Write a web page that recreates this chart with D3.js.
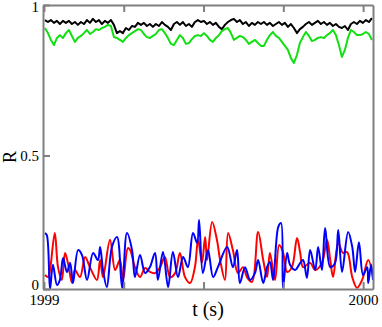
<!DOCTYPE html>
<html>
<head>
<meta charset="utf-8">
<script src="https://cdn.jsdelivr.net/npm/d3@7/dist/d3.min.js"></script>
<style>
  body { margin: 0; background: #fff; }
  svg { display: block; }
  text { font-family: "Liberation Serif", "DejaVu Serif", serif; }
</style>
</head>
<body>
<div id="chart"></div>
<script>
// tick labels
const xTicks = [1999, 1999.25, 1999.5, 1999.75, 2000]
const xTickLabels = ['1999', '', '', '', '2000']
const yTicks = [0, 0.47, 1]
const yTickLabels = ['0', '0.5', '1']

// black & green are sampled on a regular time grid (start, step)
const gridStart = 1999.003
const gridStep = 0.0094

const rBlack = [.947, .940, .947, .937, .944, .933, .944, .937, .944, .933,
  .940, .930, .940, .933, .947, .937, .951, .940, .947, .933,
  .944, .937, .947, .930, .901, .908, .901, .919, .912, .926,
  .923, .937, .930, .937, .926, .933, .923, .933, .926, .940,
  .930, .923, .912, .933, .940, .930, .940, .926, .933, .923,
  .940, .947, .940, .944, .933, .940, .930, .937, .923, .915,
  .930, .940, .947, .951, .940, .947, .933, .940, .926, .937,
  .930, .940, .933, .940, .930, .937, .926, .933, .940, .930,
  .937, .923, .933, .919, .901, .915, .923, .933, .940, .930,
  .937, .944, .933, .940, .930, .937, .926, .933, .923, .919,
  .926, .912, .933, .940, .933, .944, .937, .947, .940, .954]

const rGreen = [.919, .901, .877, .859, .884, .894, .884, .901, .912, .891,
  .870, .884, .891, .901, .912, .898, .905, .915, .912, .919,
  .923, .930, .926, .887, .884, .877, .870, .884, .894, .901,
  .908, .915, .912, .898, .887, .884, .891, .898, .912, .915,
  .901, .884, .863, .859, .877, .894, .884, .863, .866, .880,
  .891, .894, .891, .901, .891, .877, .870, .884, .894, .908,
  .915, .919, .901, .877, .884, .891, .887, .877, .863, .870,
  .877, .866, .856, .856, .877, .894, .905, .891, .884, .870,
  .856, .842, .813, .796, .824, .866, .887, .905, .891, .873,
  .877, .884, .887, .884, .894, .901, .912, .894, .859, .817,
  .842, .884, .912, .905, .894, .894, .898, .905, .898, .877]

// red & blue: time offset from 1999 and R
const tRed = [.003, .013, .019, .034, .044, .056, .066, .075, .088, .097,
  .113, .129, .144, .166, .176, .185, .207, .223, .238, .248,
  .263, .270, .285, .301, .317, .332, .348, .364, .379, .395,
  .411, .426, .442, .458, .473, .483, .495, .505, .511, .527,
  .542, .552, .567, .577, .592, .608, .624, .636, .652, .671,
  .687, .699, .708, .724, .737, .749, .762, .777, .793, .803,
  .812, .834, .850, .871, .887, .897, .906, .922, .937, .950,
  .966, .981, .997, 1.016, 1.031]
const rRed = [.049, .042, .067, .197, .077, .032, .127, .092, .021, .067,
  .042, .113, .077, .032, .102, .042, .173, .067, .102, .032,
  .144, .137, .077, .042, .074, .060, .056, .077, .113, .042,
  .056, .127, .042, .021, .077, .173, .092, .183, .102, .236,
  .173, .102, .032, .197, .137, .056, .077, .042, .025, .201,
  .102, .042, .127, .032, .155, .130, .060, .077, .180, .127,
  .077, .092, .067, .092, .173, .102, .042, .162, .127, .130,
  .042, .004, .032, .102, .042]

const tBlue = [.003, .009, .019, .028, .041, .050, .060, .072, .082, .091,
  .107, .119, .135, .154, .169, .176, .185, .197, .213, .229,
  .245, .260, .276, .285, .301, .317, .332, .348, .357, .373,
  .389, .404, .420, .436, .451, .467, .480, .486, .498, .514,
  .530, .545, .574, .592, .605, .614, .630, .646, .661, .671,
  .687, .699, .708, .718, .734, .743, .749, .762, .771, .787,
  .803, .812, .824, .834, .850, .859, .871, .881, .897, .912,
  .922, .934, .953, .966, .975, .987, 1.0, 1.013, 1.016, 1.025, 1.031]
const rBlue = [.197, .190, .000, .085, .014, .032, .109, .060, .092, .021,
  .137, .120, .032, .127, .102, .148, .067, .007, .148, .183,
  .004, .197, .137, .042, .120, .056, .077, .127, .032, .130,
  .007, .130, .042, .113, .077, .197, .162, .243, .056, .137,
  .042, .077, .148, .077, .137, .021, .077, .032, .056, .102,
  .021, .077, .095, .032, .218, .232, .004, .127, .085, .067,
  .092, .102, .039, .137, .067, .148, .067, .215, .077, .092,
  .208, .060, .201, .148, .060, .165, .049, .077, .021, .085, .032]

const width = 382
const height = 327

const svg = d3.select('#chart')
  .append('svg')
  .attr('width', width)
  .attr('height', height)

const xScale = d3.scaleLinear()
  .domain([1998.997, 2000.031])
  .range([43, 373])

const yScale = d3.scaleLinear()
  .domain([0, 1])
  .range([289, 5])

// series as point lists
const gridPts = vals => vals.map((r, i) => ({t: gridStart + i * gridStep, r: r}))
const pairPts = (ts, rs) => ts.map((t, i) => ({t: 1999 + t, r: rs[i]}))

const series = [
  {pts: gridPts(rBlack), color: '#000000', curve: d3.curveLinear},
  {pts: gridPts(rGreen), color: '#10e010', curve: d3.curveLinear},
  {pts: pairPts(tRed, rRed), color: '#ff0000', curve: d3.curveCatmullRom},
  {pts: pairPts(tBlue, rBlue), color: '#0000ff', curve: d3.curveCatmullRom}
]

svg.append('clipPath')
  .attr('id', 'clip')
  .append('rect')
  .attr('x', xScale.range()[0])
  .attr('y', yScale.range()[1])
  .attr('width', xScale.range()[1] - xScale.range()[0])
  .attr('height', yScale.range()[0] - yScale.range()[1])

svg.append('g')
  .attr('clip-path', 'url(#clip)')
  .selectAll('path')
  .data(series)
  .enter()
  .append('path')
  .attr('fill', 'none')
  .attr('stroke', d => d.color)
  .attr('stroke-width', 2)
  .attr('stroke-linejoin', 'round')
  .attr('d', d => d3.line()
    .x(p => xScale(p.t))
    .y(p => yScale(p.r))
    .curve(d.curve)(d.pts))

// axes (ticks pointing inward)
const axisColor = '#808080'

const xBottom = svg.append('g')
  .attr('transform', 'translate(0,' + yScale(0) + ')')
  .call(d3.axisBottom(xScale)
    .tickValues(xTicks)
    .tickSizeInner(-7)
    .tickSizeOuter(0)
    .tickPadding(5)
    .tickFormat((d, i) => xTickLabels[i]))

const xTop = svg.append('g')
  .attr('transform', 'translate(0,' + yScale(1) + ')')
  .call(d3.axisTop(xScale)
    .tickValues(xTicks)
    .tickSizeInner(-7)
    .tickSizeOuter(0)
    .tickFormat(''))

const yLeft = svg.append('g')
  .attr('transform', 'translate(' + xScale.range()[0] + ',0)')
  .call(d3.axisLeft(yScale)
    .tickValues(yTicks)
    .tickSizeInner(-7)
    .tickSizeOuter(0)
    .tickPadding(4)
    .tickFormat((d, i) => yTickLabels[i]))

const yRight = svg.append('g')
  .attr('transform', 'translate(' + xScale.range()[1] + ',0)')
  .call(d3.axisRight(yScale).tickValues([]).tickSizeOuter(0))

;[xBottom, xTop, yLeft, yRight].forEach(g => {
  g.selectAll('.domain, line')
    .attr('stroke', axisColor)
    .attr('stroke-width', 2)
  g.selectAll('text')
    .attr('fill', '#000')
    .style('font-size', '15px')
    .style('font-family', '"Liberation Serif", serif')
})

// nudge end labels so "1" stays inside and "0" clears "1999"
yLeft.selectAll('.tick text').filter(d => d === 1).attr('dy', '0.45em')
yLeft.selectAll('.tick text').filter(d => d === 0).attr('dy', '0.02em')

// axis titles
svg.append('text')
  .attr('x', 208)
  .attr('y', 316)
  .attr('text-anchor', 'middle')
  .style('font-size', '20px')
  .text('t (s)')

svg.append('text')
  .attr('transform', 'translate(16,157) rotate(-90)')
  .attr('text-anchor', 'middle')
  .style('font-size', '18px')
  .text('R')
</script>
</body>
</html>
